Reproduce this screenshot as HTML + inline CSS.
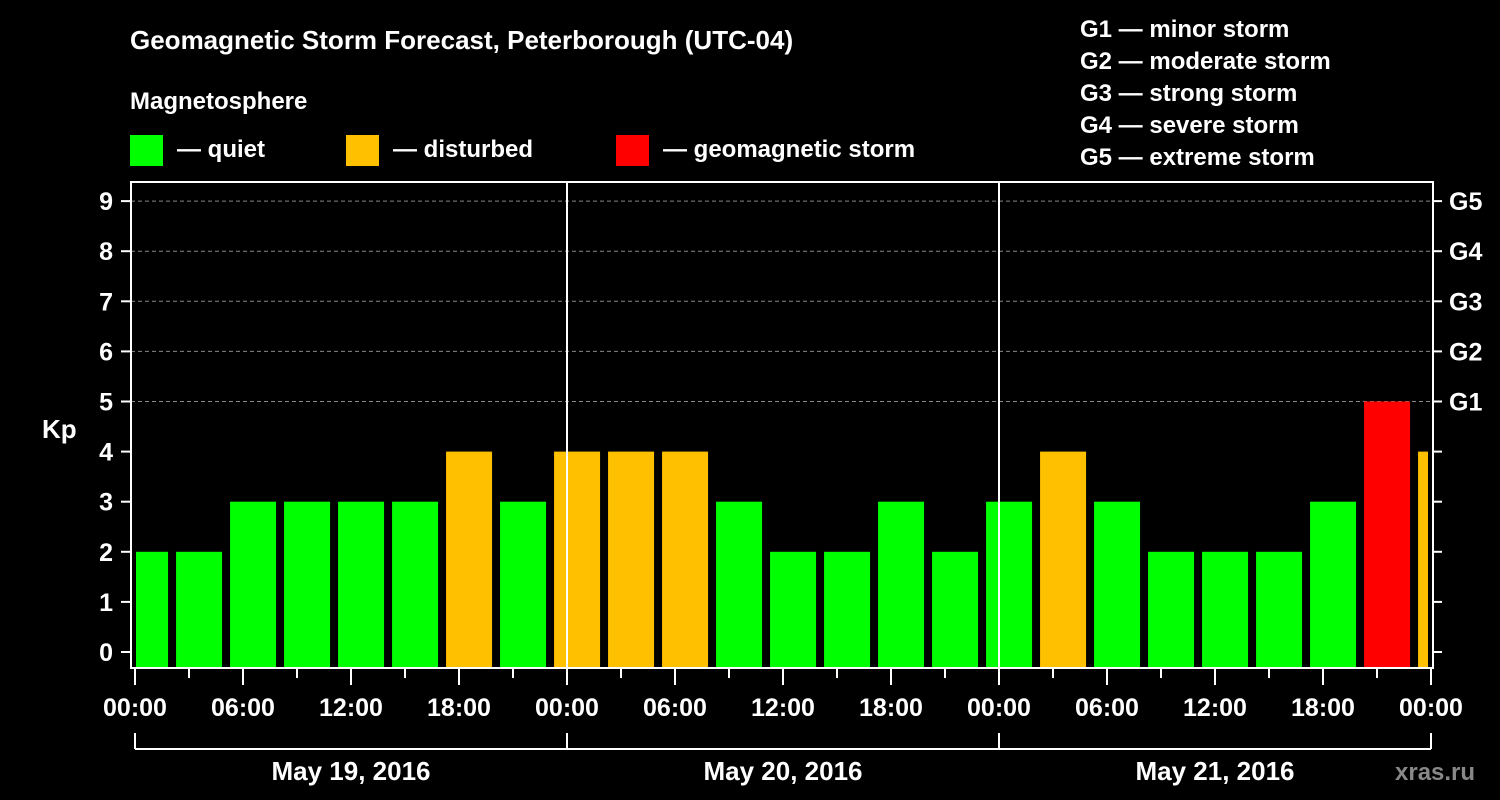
<!DOCTYPE html>
<html><head><meta charset="utf-8"><style>
body{margin:0;background:#000;}
svg{display:block;font-family:"Liberation Sans",sans-serif;font-weight:bold;}
</style></head><body>
<svg width="1500" height="800">
<rect width="1500" height="800" fill="#000"/>
<text x="130" y="49" fill="#fff" font-size="26">Geomagnetic Storm Forecast, Peterborough (UTC-04)</text>
<text x="130" y="109" fill="#fff" font-size="24">Magnetosphere</text>
<g>
<rect x="130" y="135" width="33" height="31" fill="#00ff00"/>
<text x="177" y="157" fill="#fff" font-size="24">— quiet</text>
<rect x="346" y="135" width="33" height="31" fill="#ffc000"/>
<text x="393" y="157" fill="#fff" font-size="24">— disturbed</text>
<rect x="616" y="135" width="33" height="31" fill="#ff0000"/>
<text x="663" y="157" fill="#fff" font-size="24">— geomagnetic storm</text>
</g>
<g fill="#fff" font-size="24">
<text x="1080" y="37">G1 — minor storm</text>
<text x="1080" y="69">G2 — moderate storm</text>
<text x="1080" y="101">G3 — strong storm</text>
<text x="1080" y="133">G4 — severe storm</text>
<text x="1080" y="165">G5 — extreme storm</text>
</g>
<text x="42" y="438" fill="#fff" font-size="26">Kp</text>
<text x="1395" y="780" fill="#888" font-size="24">xras.ru</text>
<g id="plot"></g>
</svg>
<script>
const kpValues=[2,2,3,3,3,3,4,3,4,4,4,3,2,2,3,2,3,4,3,2,2,2,3,5,4];
const yTicks=[0,1,2,3,4,5,6,7,8,9];
const gLabels=["G1","G2","G3","G4","G5"];
const hourLabels=["00:00","06:00","12:00","18:00"];
const dayLabels=["May 19, 2016","May 20, 2016","May 21, 2016"];
const NS="http://www.w3.org/2000/svg";
const g=document.getElementById('plot');
const L=131,R=1433,T=182,B=668,X0=135,PXH=18;
const y=v=>652-v*50.1;
const x=h=>X0+h*PXH;
function mk(t,a){const e=document.createElementNS(NS,t);for(const k in a)e.setAttribute(k,a[k]);g.appendChild(e);return e;}
// gridlines
for(let v=5;v<=9;v++){const e=mk('line',{x1:L,x2:R,y1:y(v),y2:y(v),stroke:'#888','stroke-dasharray':'4,3','stroke-width':1});

}
// bars
kpValues.forEach((v,i)=>{
 let x1=x(i*3-0.83)+2,x2=x1+46;
 x1=Math.max(x1,X0+1);x2=Math.min(x2,R-5);
 const c=v>=5?'#ff0000':(v>=4?'#ffc000':'#00ff00');
 const e=mk('rect',{x:x1,y:y(v),width:x2-x1,height:B-y(v),fill:c});
 
 
});
// day separators
for(let d=1;d<3;d++){const e=mk('line',{x1:x(d*24),x2:x(d*24),y1:T,y2:B,stroke:'#fff','stroke-width':2});

}
// frame
const f=mk('rect',{x:L,y:T,width:R-L,height:B-T,fill:'none',stroke:'#fff','stroke-width':2});


// y ticks
yTicks.forEach(v=>{
 mk('line',{x1:121,x2:L,y1:y(v),y2:y(v),stroke:'#fff','stroke-width':2});
 mk('line',{x1:R,x2:1442,y1:y(v),y2:y(v),stroke:'#fff','stroke-width':2});
 const t=mk('text',{x:113,y:y(v)+9,fill:'#fff','font-size':25,'text-anchor':'end'});t.textContent=v;
 
 
});
gLabels.forEach((s,i)=>{const t=mk('text',{x:1449,y:y(5+i)+9,fill:'#fff','font-size':25});t.textContent=s;
 
 });
// x ticks
for(let h=0;h<=72;h+=3){const major=h%6===0;
 mk('line',{x1:x(h),x2:x(h),y1:B,y2:major?685:678,stroke:'#fff','stroke-width':2});}
for(let h=0;h<=72;h+=6){const t=mk('text',{x:x(h),y:716,fill:'#fff','font-size':25,'text-anchor':'middle'});
 t.textContent=hourLabels[(h/6)%4];
 
 }
// day bracket
mk('line',{x1:x(0),x2:x(72),y1:749,y2:749,stroke:'#fff','stroke-width':2});
for(let d=0;d<=3;d++)mk('line',{x1:x(d*24),x2:x(d*24),y1:733,y2:749,stroke:'#fff','stroke-width':2});
dayLabels.forEach((s,d)=>{const t=mk('text',{x:x(d*24+12),y:780,fill:'#fff','font-size':26,'text-anchor':'middle'});t.textContent=s;
 
 });
</script>
</body></html>
